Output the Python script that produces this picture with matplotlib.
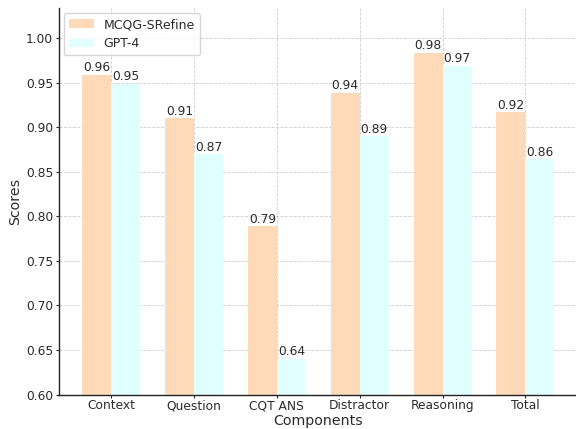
import matplotlib
matplotlib.use("Agg")
import matplotlib.pyplot as plt
import numpy as np

categories = ["Context", "Question", "CQT ANS", "Distractor", "Reasoning", "Total"]
mcqg_srefine = [0.959, 0.910, 0.789, 0.939, 0.984, 0.917]
gpt4 = [0.949, 0.870, 0.640, 0.890, 0.969, 0.864]
series_names = ["MCQG-SRefine", "GPT-4"]

plt.rcParams['font.family'] = ['DejaVu Sans']
text_color = '#2b2b2b'
small = 8.8

fig = plt.figure(figsize=(5.76, 4.29), dpi=100)
W, H = 576, 429
ax = fig.add_axes([58.5 / W, (H - 394.5) / H, (578 - 58.5) / W, (394.5 - 8) / H])

x = np.arange(len(categories))
w = 0.35
b1 = ax.bar(x - w / 2, mcqg_srefine, w, color='#FFDAB9', label=series_names[0], zorder=2)
b2 = ax.bar(x + w / 2, gpt4, w, color='#E0FFFF', label=series_names[1], zorder=2)

for bars in (b1, b2):
    for r in bars:
        h = r.get_height()
        ax.text(r.get_x() + r.get_width() / 2, h + 0.0005, f"{h:.2f}",
                ha='center', va='bottom', fontsize=small, color=text_color, zorder=3)

ax.set_xlim(-0.635, len(categories) - 1 + 0.635)
ax.set_ylim(0.60, 1.034)
ax.set_xticks(x)
ax.set_xticklabels(categories)
ax.set_yticks(np.arange(0.60, 1.001, 0.05))
ax.yaxis.set_major_formatter(matplotlib.ticker.FormatStrFormatter('%.2f'))
ax.tick_params(axis='both', labelsize=small, colors=text_color, length=2.2, width=0.8)
ax.tick_params(axis='y', pad=1.6)
ax.tick_params(axis='x', pad=1.2)

ax.set_xlabel("Components", fontsize=10.2, color=text_color, labelpad=1.5)
ax.set_ylabel("Scores", fontsize=10.2, color=text_color, labelpad=3)

ax.grid(True, linestyle='--', color='#cfcfcf', linewidth=0.6, zorder=0)
ax.set_axisbelow(True)

for s in ('top', 'right'):
    ax.spines[s].set_visible(False)
for s in ('left', 'bottom'):
    ax.spines[s].set_color('#222222')
    ax.spines[s].set_linewidth(1.0)

leg = ax.legend(loc='upper left', fontsize=9.0, frameon=True, fancybox=True,
                borderaxespad=0.4)
leg.get_frame().set_edgecolor('#cccccc')
for t in leg.get_texts():
    t.set_color(text_color)

fig.savefig("out.png", dpi=100)
